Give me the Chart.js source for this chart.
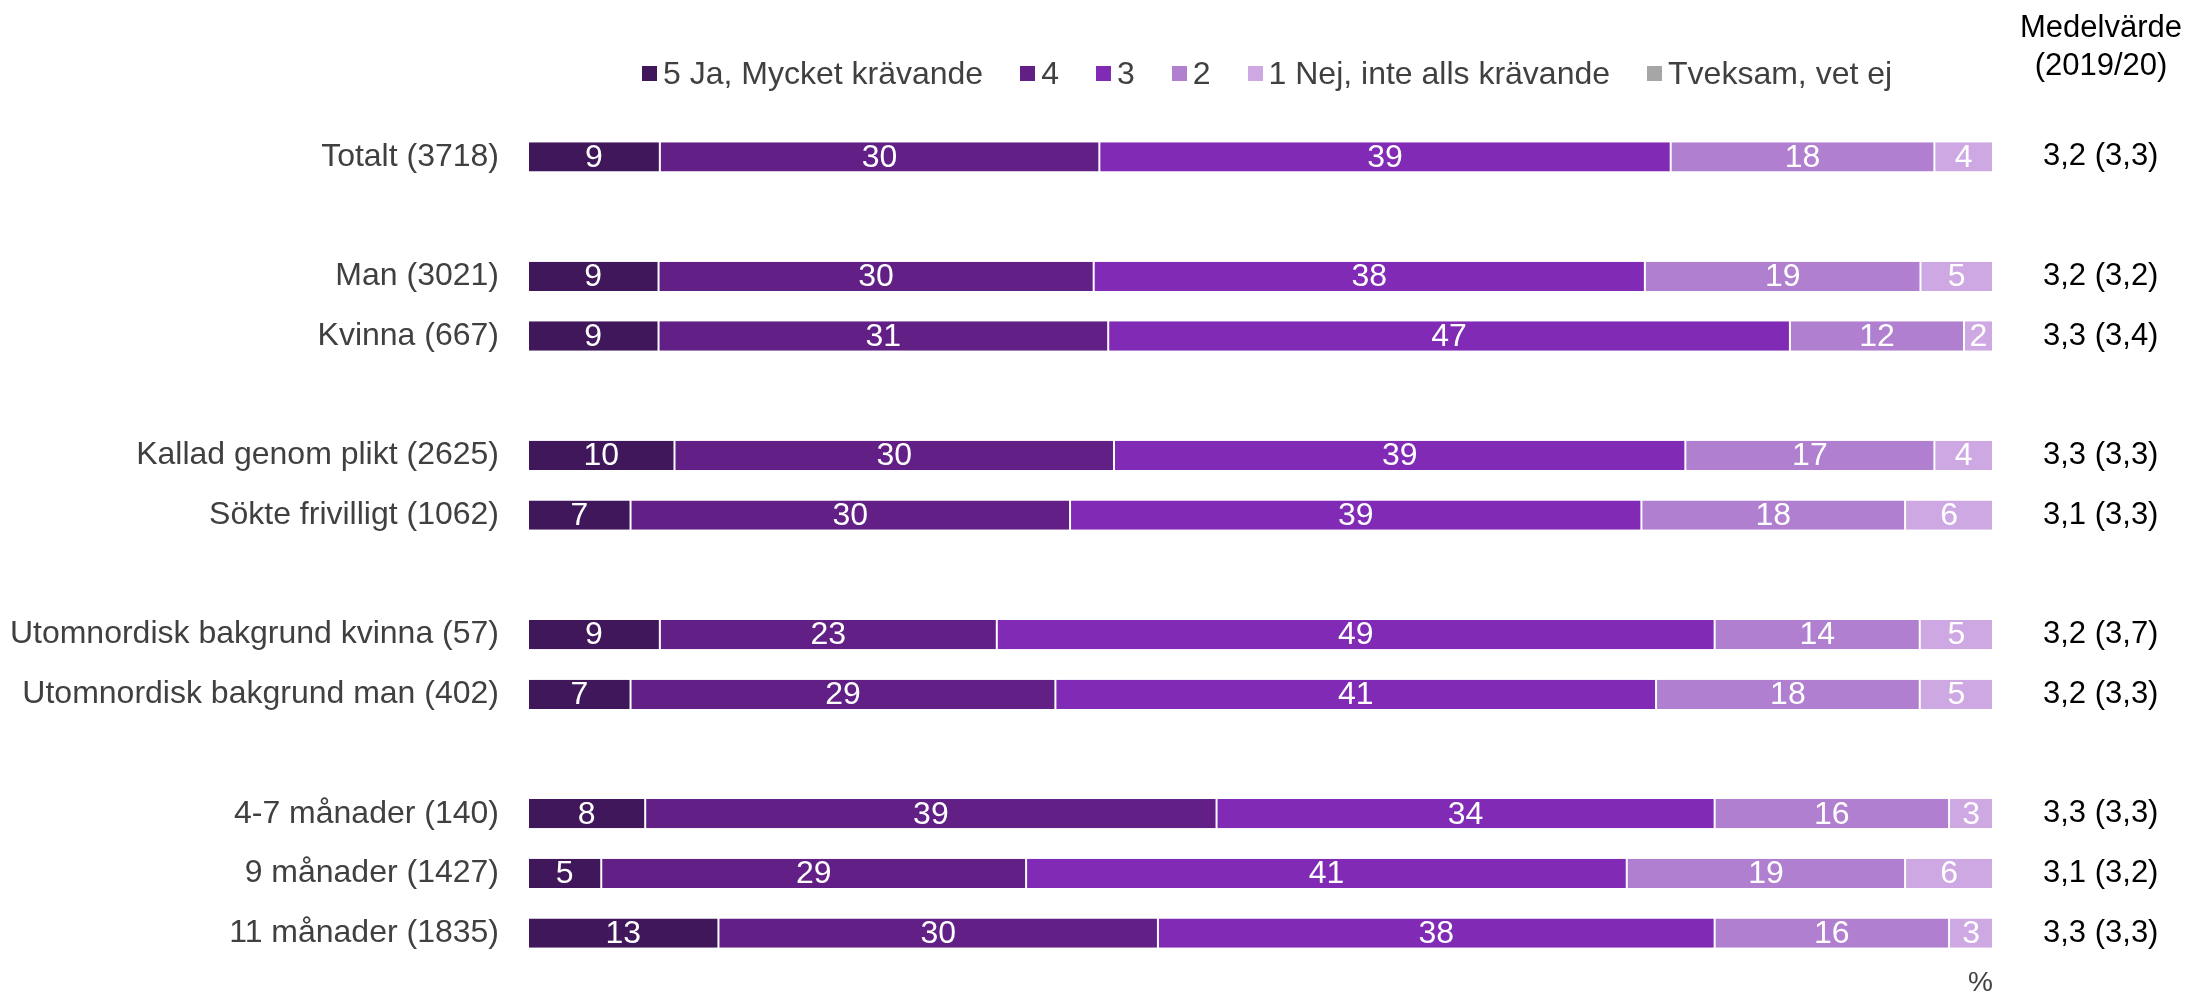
<!DOCTYPE html>
<html lang="sv">
  <head>
    <meta charset="utf-8" />
    <meta name="viewport" content="width=device-width, initial-scale=1" />
    <title>Krävande</title>
    <script src="https://cdn.jsdelivr.net/npm/chart.js/dist/chart.umd.min.js"></script>
    <style>
      * {
        margin: 0;
        padding: 0;
        font-family: "Liberation Sans", Arial, sans-serif;
      }
      body {
        background: #fff;
      }
      .chartBox {
        position: relative;
        width: 2190px;
        height: 997px;
      }
      .legend {
        position: absolute;
        left: 642px;
        top: 55px;
        list-style: none;
        display: flex;
      }
      .legend li {
        display: flex;
        align-items: center;
        font-size: 32px;
        line-height: 36px;
        color: #404040;
        margin-right: 37px;
        white-space: nowrap;
      }
      .dot {
        width: 15px;
        height: 15px;
        margin-right: 6px; /* gap between box and text */
      }
      .header {
        position: absolute;
        left: 2012px;
        top: 8px;
        width: 178px;
        text-align: center;
        font-size: 31px;
        line-height: 38px;
        color: #000;
      }
    </style>
  </head>
  <body>
    <div class="chartBox">
      <canvas id="myChart"></canvas>
      <ul class="legend"></ul>
      <div class="header">Medelvärde<br />(2019/20)</div>
    </div>

    <script>
      // empty strings / nulls are the spacer rows between groups
      const categories = [
        "Totalt (3718)",
        "",
        "Man (3021)",
        "Kvinna (667)",
        "",
        "Kallad genom plikt (2625)",
        "Sökte frivilligt (1062)",
        "",
        "Utomnordisk bakgrund kvinna (57)",
        "Utomnordisk bakgrund man (402)",
        "",
        "4-7 månader (140)",
        "9 månader (1427)",
        "11 månader (1835)",
      ];
      const means = [
        "3,2 (3,3)", "", "3,2 (3,2)", "3,3 (3,4)", "", "3,3 (3,3)", "3,1 (3,3)",
        "", "3,2 (3,7)", "3,2 (3,3)", "", "3,3 (3,3)", "3,1 (3,2)", "3,3 (3,3)",
      ];

      const seriesNames = ["5 Ja, Mycket krävande", "4", "3", "2", "1 Nej, inte alls krävande", "Tveksam, vet ej"];
      const seriesColors = ["#41175B", "#622087", "#802AB5", "#B17FD0", "#CEA8E2", "#A6A6A6"];

      const ja5 = [9, null, 9, 9, null, 10, 7, null, 9, 7, null, 8, 5, 13];
      const val4 = [30, null, 30, 31, null, 30, 30, null, 23, 29, null, 39, 29, 30];
      const val3 = [39, null, 38, 47, null, 39, 39, null, 49, 41, null, 34, 41, 38];
      const val2 = [18, null, 19, 12, null, 17, 18, null, 14, 18, null, 16, 19, 16];
      const nej1 = [4, null, 5, 2, null, 4, 6, null, 5, 5, null, 3, 6, 3];
      const tveksam = [0, null, 0, 0, null, 0, 0, null, 0, 0, null, 0, 0, 0];

      const series = [ja5, val4, val3, val2, nej1, tveksam];

      // 100% stacked: each row is scaled to its own total (rounded values can sum to 101)
      const rowSums = categories.map((c, j) => series.reduce((s, arr) => s + (arr[j] || 0), 0));

      const data = {
        labels: categories,
        datasets: series.map((arr, i) => ({
          label: seriesNames[i],
          raw: arr,
          data: arr.map((v, j) => (v === null ? null : (v / rowSums[j]) * 100)),
          backgroundColor: seriesColors[i],
          borderColor: "#fff",
          borderWidth: { left: 1, right: 1, top: 0, bottom: 0 },
          borderSkipped: false,
          categoryPercentage: 1,
          barPercentage: 0.49,
        })),
      };

      const barLabels = {
        id: "barLabels",
        afterDatasetsDraw(chart) {
          const ctx = chart.ctx;
          ctx.save();
          ctx.font = "32px 'Liberation Sans', Arial, sans-serif";
          ctx.fillStyle = "#fff";
          ctx.textAlign = "center";
          ctx.textBaseline = "middle";
          chart.data.datasets.forEach((ds, i) => {
            const meta = chart.getDatasetMeta(i);
            meta.data.forEach((bar, j) => {
              const v = ds.raw[j];
              if (!v) return;
              const p = bar.getCenterPoint();
              ctx.fillText(String(v), p.x, p.y + 1);
            });
          });
          ctx.restore();
        },
      };

      // fixed axis width, and no extra room reserved above/below for tick labels
      const fixWidth = (w) => (scale) => {
        scale.width = w;
        scale.paddingTop = 0;
        scale.paddingBottom = 0;
      };

      const config = {
        type: "bar",
        data: data,
        options: {
          indexAxis: "y",
          responsive: true,
          maintainAspectRatio: false,
          animation: false,
          layout: { padding: { top: 127, left: 0, right: 0, bottom: 0 } },
          plugins: {
            legend: { display: false },
            tooltip: { enabled: false },
          },
          scales: {
            x: {
              stacked: true,
              min: 0,
              max: 100,
              grid: { display: false, drawTicks: false },
              border: { display: false },
              ticks: { display: false },
              title: {
                display: true,
                text: "%",
                align: "end",
                color: "#404040",
                font: { size: 28, lineHeight: 1 },
                padding: { top: 6, bottom: 0 },
              },
            },
            y: {
              stacked: true,
              position: "left",
              grid: { display: false, drawTicks: false },
              border: { display: false },
              ticks: {
                autoSkip: false,
                padding: 29,
                color: "#404040",
                font: { size: 32 },
              },
              afterFit: fixWidth(528),
            },
            y2: {
              type: "category",
              labels: means,
              position: "right",
              offset: true,
              grid: { display: false, drawTicks: false },
              border: { display: false },
              ticks: {
                autoSkip: false,
                crossAlign: "center",
                padding: 50,
                color: "#000",
                font: { size: 31 },
              },
              afterFit: fixWidth(197),
            },
          },
        },
        plugins: [barLabels],
      };

      const ul = document.querySelector(".legend");
      seriesNames.forEach((name, i) => {
        const li = document.createElement("li");
        const dot = document.createElement("span");
        dot.classList.add("dot");
        dot.style.backgroundColor = seriesColors[i];
        li.appendChild(dot);
        li.appendChild(document.createTextNode(name));
        ul.appendChild(li);
      });

      const myChart = new Chart(document.getElementById("myChart"), config);
    </script>
  </body>
</html>
